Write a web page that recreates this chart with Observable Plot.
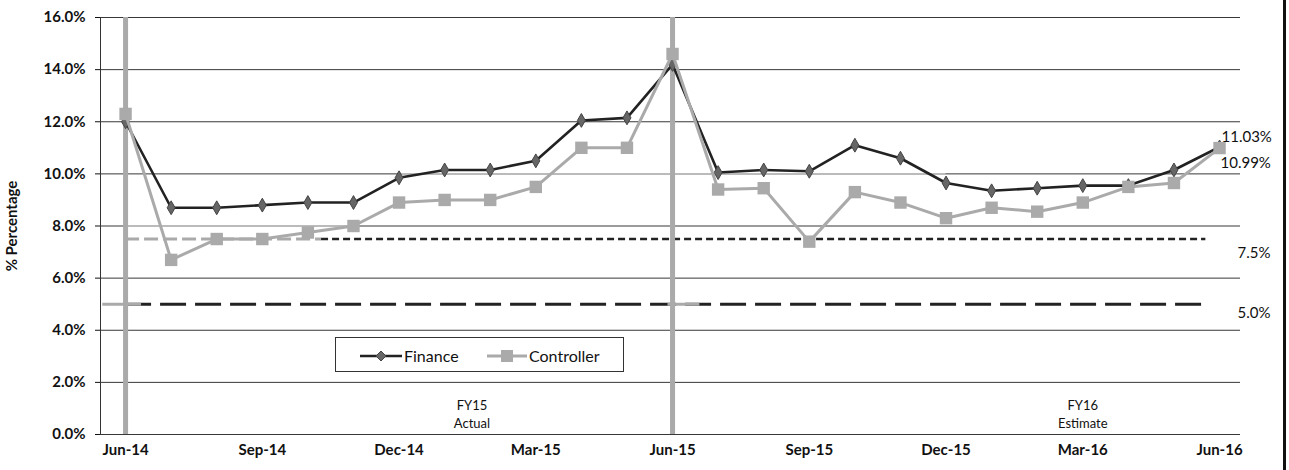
<!DOCTYPE html>
<html>
<head>
<meta charset="utf-8">
<script src="https://cdn.jsdelivr.net/npm/d3@7"></script>
<script src="https://cdn.jsdelivr.net/npm/@observablehq/plot@0.6"></script>
<style>
  body { margin: 0; background: #fff; }
  #wrap { position: relative; width: 1289px; height: 470px; overflow: hidden; background: #fff; font-family: Lato, "Open Sans", sans-serif; }
  #legend { position: absolute; left: 335px; top: 337px; width: 289px; height: 35px; border: 1px solid #333; background: #fff; box-sizing: border-box; }
  #legend .item { position: absolute; top: 0; height: 35px; display: flex; align-items: center; font-size: 16px; color: #111; }
  #border { position: absolute; left: 1283px; top: 0; width: 3px; height: 470px; background: #111; }
</style>
</head>
<body>
<div id="wrap"><div id="border"></div></div>
<script>
// ---- data ----
const months = ["Jun-14","Jul-14","Aug-14","Sep-14","Oct-14","Nov-14","Dec-14","Jan-15","Feb-15","Mar-15","Apr-15","May-15",
                "Jun-15","Jul-15","Aug-15","Sep-15","Oct-15","Nov-15","Dec-15","Jan-16","Feb-16","Mar-16","Apr-16","May-16","Jun-16"];
const finance    = [12.0, 8.7, 8.7, 8.8, 8.9, 8.9, 9.85, 10.15, 10.15, 10.5, 12.05, 12.15,
                    14.2, 10.05, 10.15, 10.1, 11.1, 10.6, 9.65, 9.35, 9.45, 9.55, 9.55, 10.15, 11.03];
const controller = [12.3, 6.7, 7.5, 7.5, 7.75, 8.0, 8.9, 9.0, 9.0, 9.5, 11.0, 11.0,
                    14.6, 9.4, 9.45, 7.4, 9.3, 8.9, 8.3, 8.7, 8.55, 8.9, 9.5, 9.65, 10.99];
const yTicks = [0, 2, 4, 6, 8, 10, 12, 14, 16];
const xTickMonths = ["Jun-14","Sep-14","Dec-14","Mar-15","Jun-15","Sep-15","Dec-15","Mar-16","Jun-16"];
const targetLevels = [7.5, 5.0];
const targetLabels = ["7.5%", "5.0%"];
const periodStarts = ["Jun-14", "Jun-15"];
const periodTitles = ["FY15", "FY16"];
const periodSubtitles = ["Actual", "Estimate"];
const periodLabelMonths = [7.6, 21.0];
const endLabels = ["11.03%", "10.99%"];

// ---- build ----
const idx = m => months.indexOf(m);
const rows = months.map((m, i) => ({i, m, finance: finance[i], controller: controller[i]}));
const last = months.length - 1;
const xMin = -0.55, xMax = last + 0.46;

const chart = Plot.plot({
  width: 1289, height: 470,
  marginLeft: 100, marginRight: 49, marginTop: 17, marginBottom: 36,
  style: {fontFamily: "Lato, 'Open Sans', sans-serif", fontSize: "14px", fontWeight: "bold", color: "#111", background: "transparent"},
  x: {domain: [xMin, xMax]},
  y: {domain: [0, 16]},
  marks: [
    Plot.gridY(yTicks, {stroke: "#222", strokeOpacity: 0.9, strokeWidth: 1}),
    // light gray reference segments
    Plot.ruleY([{y: 8.0, a: 0, b: 5}, {y: 10.0, a: 6, b: 18}], {y: "y", x1: "a", x2: "b", stroke: "#bbb", strokeWidth: 2}),
    // target dashed lines
    Plot.ruleY([{y: targetLevels[0], a: 0, b: 4.3}], {y: "y", x1: "a", x2: "b", stroke: "#aaa", strokeWidth: 3, strokeDasharray: "14,5"}),
    Plot.ruleY([{y: targetLevels[0], a: 4.3, b: 23.7}], {y: "y", x1: "a", x2: "b", stroke: "#222", strokeWidth: 2.5, strokeDasharray: "7,4"}),
    Plot.ruleY([{y: targetLevels[1], a: 0, b: 23.7}], {y: "y", x1: "a", x2: "b", stroke: "#222", strokeWidth: 3, strokeDasharray: "26,9"}),
    Plot.ruleY([{y: targetLevels[1], a: -0.5, b: 0.35}, {y: targetLevels[1], a: 11.9, b: 12.6}], {y: "y", x1: "a", x2: "b", stroke: "#aaa", strokeWidth: 3}),
    // period separators
    Plot.ruleX(periodStarts.map(idx), {y1: 0, y2: 16, stroke: "#aaa", strokeWidth: 5}),
    // y axis line
    Plot.ruleX([xMin], {y1: 0, y2: 16, stroke: "#333", strokeWidth: 1}),
    Plot.axisY({ticks: yTicks, tickFormat: d => d.toFixed(1) + "%", tickSize: 5, tickPadding: 10, fontSize: 15,
      label: "% Percentage", labelAnchor: "center", labelArrow: "none", labelOffset: 94}),
    Plot.axisX({ticks: xTickMonths.map(idx), tickFormat: i => months[i], tickSize: 0, tickPadding: 10, fontSize: 15}),
    // series
    Plot.line(rows, {x: "i", y: "finance", stroke: "#222", strokeWidth: 2.6}),
    Plot.dot(rows, {x: "i", y: "finance", symbol: "diamond", r: 4.2, fill: "#666", stroke: "#444", strokeWidth: 1}),
    Plot.line(rows, {x: "i", y: "controller", stroke: "#aaa", strokeWidth: 3}),
    Plot.dot(rows, {x: "i", y: "controller", symbol: "square", r: 7, fill: "#aaa", stroke: "none"}),
    // labels
    Plot.text([finance[last]], {x: last, y: d => d, text: [endLabels[0]], textAnchor: "start", dx: 2, dy: -10, fontSize: 15, fontWeight: "normal", fill: "#111"}),
    Plot.text([controller[last]], {x: last, y: d => d, text: [endLabels[1]], textAnchor: "start", dx: 1, dy: 15, fontSize: 15, fontWeight: "normal", fill: "#111"}),
    Plot.text([targetLevels[0]], {x: last, y: d => d, text: [targetLabels[0]], textAnchor: "start", dx: 18, dy: 14, fontSize: 15, fontWeight: "normal", fill: "#111"}),
    Plot.text([targetLevels[1]], {x: last, y: d => d, text: [targetLabels[1]], textAnchor: "start", dx: 18, dy: 9, fontSize: 15, fontWeight: "normal", fill: "#111"}),
    Plot.text(periodTitles, {x: periodLabelMonths, y: 0, text: d => d, dy: -29, fontSize: 13, fontWeight: "normal", fill: "#111"}),
    Plot.text(periodSubtitles, {x: periodLabelMonths, y: 0, text: d => d, dy: -11, fontSize: 13, fontWeight: "normal", fill: "#111"})
  ]
});
document.getElementById("wrap").prepend(chart);

// legend overlay
const legend = document.createElement("div");
legend.id = "legend";
legend.innerHTML = `
  <div class="item" style="left:24px">
    <svg width="42" height="14"><line x1="0" y1="7" x2="42" y2="7" stroke="#222" stroke-width="2.6"/>
      <path d="M21,2 L26,7 L21,12 L16,7 Z" fill="#666" stroke="#444"/></svg>
    <span style="margin-left:2px">Finance</span></div>
  <div class="item" style="left:151px">
    <svg width="40" height="14"><line x1="0" y1="7" x2="40" y2="7" stroke="#aaa" stroke-width="3"/>
      <rect x="14" y="1" width="12" height="12" fill="#aaa"/></svg>
    <span style="margin-left:2px">Controller</span></div>`;
document.getElementById("wrap").appendChild(legend);
</script>
</body>
</html>
